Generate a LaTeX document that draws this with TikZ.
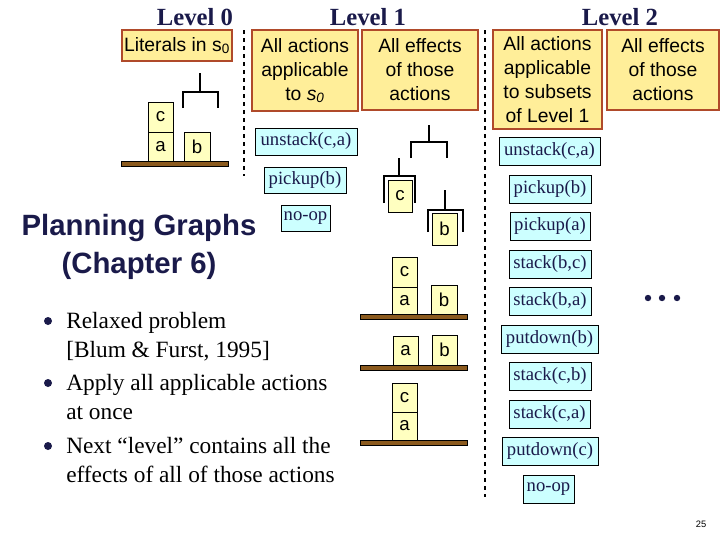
\documentclass[tikz,border=0pt]{standalone}
\usepackage{fontspec}
\setmainfont{Liberation Serif}
\setsansfont{Liberation Sans}
\definecolor{navy}{HTML}{1A1A4A}
\definecolor{ybg}{HTML}{FFEE99}
\definecolor{yborder}{HTML}{B04A2A}
\definecolor{blk}{HTML}{FFFFC0}
\definecolor{cyanbg}{HTML}{CCFFFF}
\definecolor{tablec}{HTML}{8B5A1E}
\tikzset{
  ybox/.style={draw=yborder,fill=ybg,line width=0.9pt,inner sep=0pt,align=center,font=\sffamily\fontsize{14.5}{18}\selectfont,text=black},
  act/.style={draw=black,fill=cyanbg,line width=0.7pt,inner sep=0pt,font=\fontsize{14}{16}\selectfont,text=navy},
  blkbox/.style={draw=black,fill=blk,line width=0.6pt,inner sep=0pt,font=\sffamily\fontsize{14}{15}\selectfont},
  tbl/.style={draw=black,fill=tablec,line width=0.4pt},
  hand/.style={line width=2pt,black},
  title/.style={font=\bfseries\fontsize{18.5}{20}\selectfont,text=navy},
  divider/.style={dashed,line width=1pt},
  bul/.style={anchor=base west,font=\fontsize{17.5}{20}\selectfont,text=black,inner sep=0pt}
}
\newcommand\bxn[7]{\node[#1,minimum width={(#5-#3)*0.75pt},minimum height={(#6-#4)*0.75pt}] (#2) at ({(#3+#5)/2},{(#4+#6)/2}) {#7};}
\begin{document}
\begin{tikzpicture}[x=0.75pt,y=-0.75pt]
\useasboundingbox (0,0) rectangle (720,540);
% titles
\node[title] (l0) at (195,17) {Level 0};
\node[title] (l1) at (368,17) {Level 1};
\node[title] (l2) at (620,17) {Level 2};
% dividers
\draw[divider] (244,30) -- (244,176);
\draw[divider] (485,30) -- (485,497);
% yellow boxes
\bxn{ybox}{lit}{122}{30}{232}{61}{Literals in s\textsubscript{0}}
\bxn{ybox}{aa1}{252}{30}{358}{111}{All actions\\applicable\\to \textit{s\textsubscript{0}}}
\bxn{ybox}{ae1}{362}{30}{478}{110}{All effects\\of those\\actions}
\bxn{ybox}{aa2}{493}{30}{602}{129}{All actions\\applicable\\to subsets\\of Level 1}
\bxn{ybox}{ae2}{607}{30}{719}{110}{All effects\\of those\\actions}
% level 0 state
\bxn{blkbox}{c0}{148}{102}{173}{132}{c}
\bxn{blkbox}{a0}{148}{132}{173}{161}{a}
\bxn{blkbox}{b0}{184}{132}{210}{161}{b}
\draw[tbl] (121,161) rectangle (228,166);
\draw[hand] (200,73) -- (200,92) (183,108) -- (183,92) -- (218,92) -- (218,108);
% level 1 actions
\bxn{act}{u1}{255}{128}{357}{155}{unstack(c,a)}
\bxn{act}{p1}{264}{167}{346}{193}{pickup(b)}
\bxn{act}{n1}{281}{205}{330}{231}{no-op}
% level 1 effects
\draw[hand] (429,125) -- (429,142) (411,158) -- (411,142) -- (447,142) -- (447,158);
\draw[hand] (399,158) -- (399,176) (384,203) -- (384,176) -- (415,176) -- (415,203);
\bxn{blkbox}{ch}{388}{180}{412}{212}{c}
\draw[hand] (445,190) -- (445,210) (428,232) -- (428,210) -- (463,210) -- (463,232);
\bxn{blkbox}{bh}{432}{213}{457}{245}{b}
\bxn{blkbox}{c1}{392}{257}{417}{287}{c}
\bxn{blkbox}{a1}{392}{287}{417}{314}{a}
\bxn{blkbox}{b1}{431}{285}{457}{314}{b}
\draw[tbl] (360,314) rectangle (467,319);
\bxn{blkbox}{a2}{393}{336}{418}{365}{a}
\bxn{blkbox}{b2}{432}{335}{457}{365}{b}
\draw[tbl] (360,365) rectangle (467,370);
\bxn{blkbox}{c3}{392}{383}{417}{412}{c}
\bxn{blkbox}{a3}{392}{412}{417}{440}{a}
\draw[tbl] (360,440) rectangle (467,445);
% level 2 actions
\bxn{act}{u2}{499}{137}{600}{165}{unstack(c,a)}
\bxn{act}{pb2}{509}{175}{591}{203}{pickup(b)}
\bxn{act}{pa2}{510}{212}{590}{240}{pickup(a)}
\bxn{act}{sbc}{509}{250}{591}{278}{stack(b,c)}
\bxn{act}{sba}{509}{287}{591}{315}{stack(b,a)}
\bxn{act}{pdb}{501}{325}{598}{353}{putdown(b)}
\bxn{act}{scb}{509}{362}{591}{390}{stack(c,b)}
\bxn{act}{sca}{509}{400}{590}{428}{stack(c,a)}
\bxn{act}{pdc}{502}{437}{598}{465}{putdown(c)}
\bxn{act}{n2}{523}{475}{574}{503}{no-op}
\foreach \x in {648,662,677} \fill[navy] (\x,298) circle (3.2);
% title text
\node[font=\sffamily\bfseries\fontsize{22}{28}\selectfont,text=navy,align=center] (pg) at (139,247) {Planning Graphs\\(Chapter 6)};
% bullets
\foreach \y in {321,383,446} \fill[navy] (48,\y) circle (4);
\node[bul] (t1) at (66,328) {Relaxed problem};
\node[bul] (t2) at (66,357) {[Blum \& Furst, 1995]};
\node[bul] (t3) at (66,390) {Apply all applicable actions};
\node[bul] (t4) at (66,419) {at once};
\node[bul] (t5) at (66,453) {Next “level” contains all the};
\node[bul] (t6) at (66,482) {effects of all of those actions};
\node[font=\sffamily\fontsize{7}{8}\selectfont] (pn) at (701,524) {25};
\end{tikzpicture}
\end{document}
